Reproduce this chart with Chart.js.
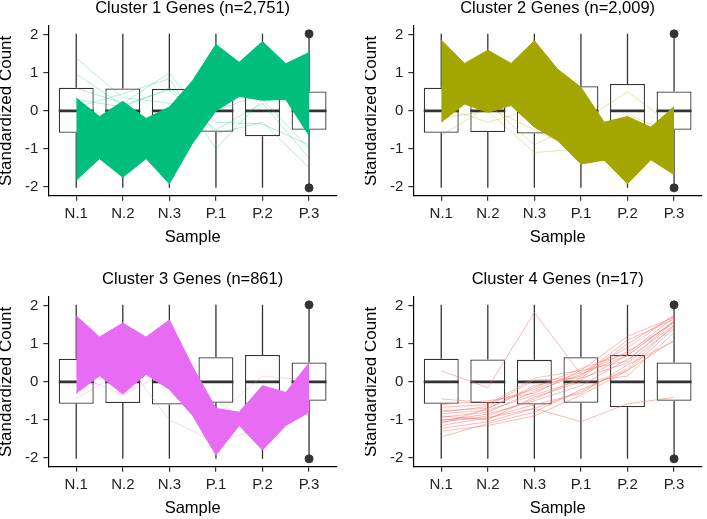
<!DOCTYPE html>
<html>
<head>
<meta charset="utf-8">
<script src="https://cdn.jsdelivr.net/npm/chart.js@4.4.1/dist/chart.umd.min.js"></script>
<style>
  html, body { margin: 0; padding: 0; background: #fff; }
  #wrap { position: relative; width: 707px; height: 519px; overflow: hidden; }
  canvas { position: absolute; }
</style>
</head>
<body>
<div id="wrap">
  <canvas id="c1" width="342" height="248" style="left:0;top:0"></canvas>
  <canvas id="c2" width="342" height="248" style="left:365px;top:0"></canvas>
  <canvas id="c3" width="342" height="248" style="left:0;top:271px"></canvas>
  <canvas id="c4" width="342" height="248" style="left:365px;top:271px"></canvas>
</div>
<script>
const FONT = "'Liberation Sans', Arial, sans-serif";

const samples = ["N.1", "N.2", "N.3", "P.1", "P.2", "P.3"];
const yTickValues = [-2, -1, 0, 1, 2];
const titles = [
  "Cluster 1 Genes (n=2,751)",
  "Cluster 2 Genes (n=2,009)",
  "Cluster 3 Genes (n=861)",
  "Cluster 4 Genes (n=17)"
];
const colors = ["#00BF7D", "#A3A500", "#E76BF3", "#F8766D"];

// boxplot of all standardized counts, per sample (same in every panel)
const boxLow = [-2.03, -2.03, -2.03, -2.03, -2.03, -2.03];
const boxQ1 = [-0.58, -0.56, -0.6, -0.55, -0.67, -0.5];
const boxMed = [0, 0, 0, 0, 0, 0];
const boxQ3 = [0.61, 0.59, 0.58, 0.65, 0.71, 0.51];
const boxHigh = [2.03, 2.03, 2.03, 2.03, 2.03, 2.03];
const outlierSample = ["P.3", "P.3"];
const outlierValue = [2.03, -2.03];

// dense clusters: outline of the gene lines, at each sample and halfway to the next
const c1Upper = [0.34, -0.15, 0.25, -0.2, 0.1, 0.8, 1.75, 1.28, 1.83, 1.24, 1.54];
const c1Lower = [-1.83, -1.26, -1.75, -1.26, -1.92, -0.85, 0.0, 0.38, 0.28, 0.3, -0.65];
const c1Stray = [
  [1.39, 0.35, 0.2, 0.0, 0.45, 0.1],
  [0.97, 0.15, 0.55, -0.5, 0.2, -1.25],
  [0.6, 0.2, 1.0, -0.6, -0.3, -1.5],
  [0.1, 0.45, 0.85, -1.0, 0.3, -1.0],
  [0.3, 0.1, 0.6, -0.3, -0.35, -0.9]
];

const c2Upper = [1.87, 1.25, 1.6, 1.25, 1.85, 1.1, 0.62, -0.3, -0.15, -0.43, 0.11];
const c2Lower = [-0.3, 0.18, -0.04, 0.14, -0.43, -0.78, -1.4, -1.3, -1.92, -1.29, -1.68];
const c2Stray = [
  [0.1, -0.3, 0.05, -0.9, -0.7, -1.0],
  [-0.2, 0.0, -1.1, -1.0, -0.6, -1.2],
  [0.3, 0.2, -0.9, -0.3, 0.5, -0.4],
  [-0.65, 0.1, -0.5, -1.1, -0.1, -0.6]
];

const c3Upper = [1.74, 1.18, 1.55, 1.18, 1.63, 0.4, -0.7, -0.8, -0.1, -0.28, 0.5];
const c3Lower = [-0.3, 0.16, -0.32, 0.2, -0.2, -0.89, -1.93, -1.15, -1.8, -1.15, -0.8];
const c3Stray = [
  [0.2, -0.35, 0.3, -1.5, -0.9, -0.6],
  [0.5, 0.6, -1.0, -1.6, -1.2, -0.5],
  [0.9, 0.8, 0.3, -0.9, 0.15, 0.05],
  [-0.45, 0.3, 0.0, -1.3, -0.2, -0.9]
];

// cluster 4: every gene
const c4Genes = [
  [0.29, -0.15, 1.83, 0.2, 0.7, 1.6],
  [-0.45, -0.55, -0.2, 0.25, 0.9, 1.75],
  [-0.67, -0.6, 0.1, 0.3, 1.2, 1.7],
  [-0.76, -0.7, -0.1, 0.15, 1.1, 1.65],
  [-0.84, -0.75, -0.35, 0.05, 0.7, 1.6],
  [-0.93, -0.8, -0.25, 0.2, 0.8, 1.55],
  [-1.02, -0.85, -0.5, -0.1, 0.6, 1.5],
  [-1.06, -0.9, -0.45, 0.1, 0.5, 1.45],
  [-1.15, -0.95, -0.6, -0.3, 0.45, 1.07],
  [-1.23, -1.05, -0.7, -1.05, -0.58, -0.41],
  [-1.45, -1.1, -0.8, -0.2, 0.3, 1.1],
  [-0.9, -1.0, -0.4, 0.0, 0.15, 1.3],
  [-1.1, -0.7, -0.15, 0.35, 0.75, 1.7],
  [-0.8, -0.65, 0.05, 0.1, 1.0, 1.75],
  [-1.0, -0.95, -0.7, -0.25, 0.35, 1.5],
  [-0.6, -0.5, -0.3, 0.3, 0.55, 1.6],
  [-1.3, -1.15, -0.9, -0.35, 0.3, 1.4]
];

const BOX_HALF = 0.375; // ggplot box width 0.75

function rgba(hex, a) {
  const n = parseInt(hex.slice(1), 16);
  return `rgba(${n >> 16}, ${(n >> 8) & 255}, ${n & 255}, ${a})`;
}

function segData(list) {
  const out = [];
  list.forEach(([x0, y0, x1, y1]) => {
    out.push({ x: x0, y: y0 }, { x: x1, y: y1 }, { x: x1, y: null });
  });
  return out;
}

function geneLine(vals, color, alpha) {
  return {
    type: "line",
    data: vals.map((v, i) => ({ x: i + 1, y: v })),
    borderColor: rgba(color, alpha),
    borderWidth: 1,
    pointRadius: 0,
    fill: false,
    order: 1
  };
}

function bandSets(upper, lower, color) {
  const envX = upper.map((_, i) => 1 + i / 2);
  return [
    {
      type: "line",
      data: upper.map((v, i) => ({ x: envX[i], y: v })),
      borderColor: color,
      borderWidth: 1,
      backgroundColor: color,
      pointRadius: 0,
      fill: "+1",
      order: 1
    },
    {
      type: "line",
      data: lower.map((v, i) => ({ x: envX[i], y: v })),
      borderColor: color,
      borderWidth: 1,
      pointRadius: 0,
      fill: false,
      order: 1
    }
  ];
}

function boxSets() {
  return [
    {
      type: "scatter",
      data: outlierSample.map((s, i) => ({ x: samples.indexOf(s) + 1, y: outlierValue[i] })),
      pointRadius: 4,
      backgroundColor: "#333",
      borderColor: "#333",
      order: 0
    },
    {
      type: "line",
      data: segData(samples.flatMap((s, i) => [
        [i + 1, boxQ3[i], i + 1, boxHigh[i]],
        [i + 1, boxLow[i], i + 1, boxQ1[i]]
      ])),
      borderColor: "#333",
      borderWidth: 1.3,
      pointRadius: 0,
      spanGaps: false,
      order: 2
    },
    {
      type: "line",
      data: segData(samples.map((s, i) => [i + 1 - BOX_HALF, boxMed[i], i + 1 + BOX_HALF, boxMed[i]])),
      borderColor: "#333",
      borderWidth: 2.6,
      pointRadius: 0,
      spanGaps: false,
      order: 2
    },
    {
      type: "bar",
      data: samples.map((s, i) => ({ x: i + 1, y: [boxQ1[i], boxQ3[i]] })),
      backgroundColor: "#fff",
      borderColor: "#333",
      borderWidth: 1.3,
      borderSkipped: false,
      barPercentage: 0.75,
      categoryPercentage: 1,
      order: 3
    }
  ];
}

function makePanel(id, title, geneSets) {
  new Chart(document.getElementById(id), {
    type: "line",
    data: { datasets: [...geneSets, ...boxSets()] },
    options: {
      responsive: false,
      animation: false,
      devicePixelRatio: 1,
      events: [],
      layout: { padding: { left: 0, right: 1.7, top: 0, bottom: 0 } },
      plugins: {
        legend: { display: false },
        tooltip: { enabled: false },
        title: {
          display: true,
          text: title,
          fullSize: false,
          color: "#000",
          font: { family: FONT, size: 16.5, weight: "normal", lineHeight: 1 },
          padding: { top: 0, bottom: 9.4 }
        }
      },
      scales: {
        x: {
          type: "linear",
          min: 0.4,
          max: 6.6,
          offset: false,
          afterBuildTicks: s => { s.ticks = samples.map((_, i) => ({ value: i + 1 })); },
          afterFit: s => { s.height = 52.2; },
          ticks: {
            callback: v => samples[v - 1],
            color: "#222",
            font: { family: FONT, size: 15 },
            padding: 4.4,
            maxRotation: 0,
            autoSkip: false
          },
          grid: { offset: false, drawOnChartArea: false, tickLength: 5, color: "#333", lineWidth: 1.2 },
          border: { color: "#000", width: 1.2 },
          title: {
            display: true,
            text: "Sample",
            color: "#000",
            font: { family: FONT, size: 16.5 },
            padding: { top: 0, bottom: 1.1 }
          }
        },
        y: {
          type: "linear",
          min: -2.24,
          max: 2.24,
          afterBuildTicks: s => { s.ticks = yTickValues.map(v => ({ value: v })); },
          afterFit: s => { s.width = 48.3; },
          ticks: {
            callback: v => String(v),
            color: "#222",
            font: { family: FONT, size: 15 },
            padding: 5
          },
          grid: { offset: false, drawOnChartArea: false, tickLength: 5, color: "#333", lineWidth: 1.2 },
          border: { color: "#000", width: 1.2 },
          title: {
            display: true,
            text: "Standardized Count",
            color: "#000",
            font: { family: FONT, size: 17, lineHeight: 0.75 },
            padding: 0
          }
        }
      }
    }
  });
}

makePanel("c1", titles[0], [
  ...bandSets(c1Upper, c1Lower, colors[0]),
  ...c1Stray.map(g => geneLine(g, colors[0], 0.3))
]);
makePanel("c2", titles[1], [
  ...bandSets(c2Upper, c2Lower, colors[1]),
  ...c2Stray.map(g => geneLine(g, colors[1], 0.3))
]);
makePanel("c3", titles[2], [
  ...bandSets(c3Upper, c3Lower, colors[2]),
  ...c3Stray.map(g => geneLine(g, colors[2], 0.3))
]);
makePanel("c4", titles[3], c4Genes.map(g => geneLine(g, colors[3], 0.5)));
</script>
</body>
</html>
